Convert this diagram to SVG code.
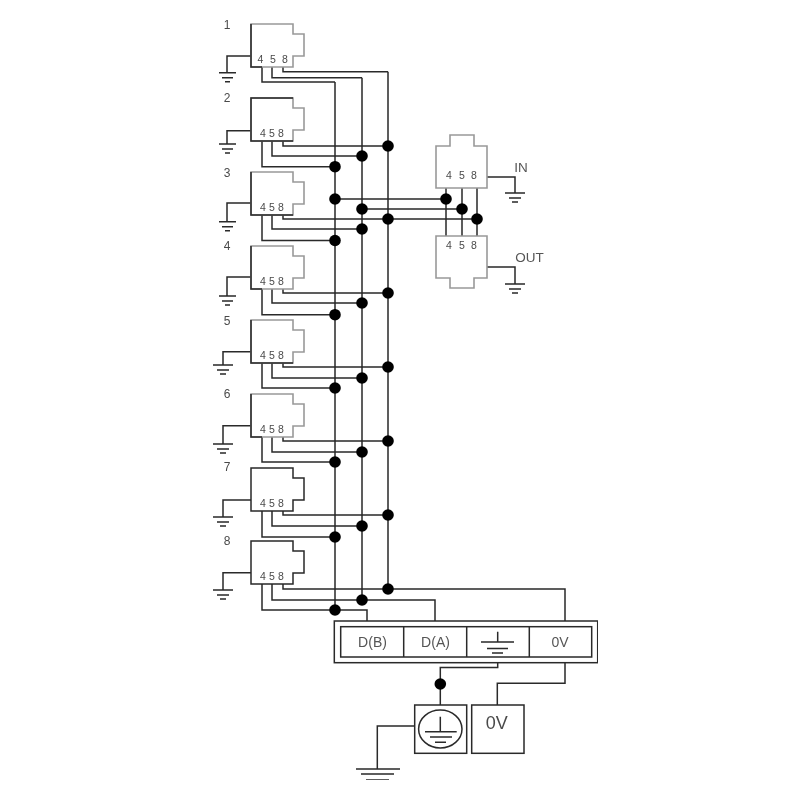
<svg xmlns="http://www.w3.org/2000/svg" width="800" height="800" viewBox="0 0 800 800">
<style>
text{font-family:"Liberation Sans",Arial,sans-serif;fill:#4a4a4a;text-anchor:middle}
.w{fill:none;stroke:#2a2a2a;stroke-width:1.5}
.g{fill:none;stroke:#999;stroke-width:1.6}
.d{fill:#000;stroke:none}
.n{font-size:12px}
.p{font-size:10.500px}
.t{font-size:14px;fill:#555}
.l{font-size:13.500px;fill:#555}
</style>
<defs>
<filter id="soft" x="0" y="0" width="1" height="1"><feGaussianBlur stdDeviation="0.35"/></filter>
<path id="j" class="g" d="M0 0H42V10H53V32H42V43H0Z"/>
<path id="jd" class="w" d="M0 0H42V10H53V32H42V43H0Z"/>
<path id="gs" class="w" d="M-8 0H9M-5 5H6M-2 9H3"/>
<path id="gw" class="w" d="M-10 0H10M-6 5H6M-3 9H3"/>
</defs>
<rect width="800" height="800" fill="#fff"/>
<g filter="url(#soft)">
<g id="connectors" class="w">
<path d="M335 82V610M362 77.700V600M388 71.700V589"/>
<path d="M262 67V82H335M272 67V77.700H362M283 67V71.700H388"/>
<path d="M262 141V166.700H335M272 141V156H362M283 141V146H388"/>
<path d="M262 215V240.500H335M272 215V229H362M283 215V219H477"/>
<path d="M262 289V314.700H335M272 289V303H362M283 289V293H388"/>
<path d="M262 363V388H335M272 363V378H362M283 363V367H388"/>
<path d="M262 437V462H335M272 437V452H362M283 437V441H388"/>
<path d="M262 511V537H335M272 511V526H362M283 511V515H388"/>
<path d="M262 584V610H367V621M272 584V600H435V621M283 584V589H565V621"/>
<path d="M335 199H446M362 209H462"/>
<path d="M446 188V236M462 188V236M477 188V236"/>
<path d="M487 177H515V193M487 267H515V284"/>
<path d="M251 56H227V72.700M251 130.700H227V144M251 203H227V221.700M251 277H227V296M251 351.700H223V365M251 425.700H223V444M251 500H223V517M251 572.700H223V590"/>
<path d="M497.700 662.700V667.500H440.300V705M565 662.700V683.300H497.300V705M414.700 726H377.300V769"/>
</g>
<g id="junctions" class="d">
<circle cx="388" cy="146" r="5.800"/><circle cx="362" cy="156" r="5.800"/><circle cx="335" cy="166.700" r="5.800"/>
<circle cx="335" cy="199" r="5.800"/><circle cx="362" cy="209" r="5.800"/><circle cx="388" cy="219" r="5.800"/>
<circle cx="446" cy="199" r="5.800"/><circle cx="462" cy="209" r="5.800"/><circle cx="477" cy="219" r="5.800"/>
<circle cx="362" cy="229" r="5.800"/><circle cx="335" cy="240.500" r="5.800"/>
<circle cx="388" cy="293" r="5.800"/><circle cx="362" cy="303" r="5.800"/><circle cx="335" cy="314.700" r="5.800"/>
<circle cx="388" cy="367" r="5.800"/><circle cx="362" cy="378" r="5.800"/><circle cx="335" cy="388" r="5.800"/>
<circle cx="388" cy="441" r="5.800"/><circle cx="362" cy="452" r="5.800"/><circle cx="335" cy="462" r="5.800"/>
<circle cx="388" cy="515" r="5.800"/><circle cx="362" cy="526" r="5.800"/><circle cx="335" cy="537" r="5.800"/>
<circle cx="388" cy="589" r="5.800"/><circle cx="362" cy="600" r="5.800"/><circle cx="335" cy="610" r="5.800"/>
<circle cx="440.300" cy="684" r="5.800"/>
</g>
<g id="node1"><use href="#j" x="251" y="24"/><path class="w" d="M251 24V67H262"/><text class="n" x="227" y="29">1</text><text class="p" x="260.500" y="63">4</text><text class="p" x="273" y="63">5</text><text class="p" x="285" y="63">8</text><use href="#gs" x="227" y="72.700"/></g>
<g id="node2"><use href="#j" x="251" y="98"/><path class="w" d="M293 98H251V141H293"/><text class="n" x="227" y="102">2</text><text class="p" x="263" y="137">4</text><text class="p" x="272" y="137">5</text><text class="p" x="281" y="137">8</text><use href="#gs" x="227" y="144"/></g>
<g id="node3"><use href="#j" x="251" y="172"/><path class="w" d="M251 172V215H293"/><text class="n" x="227" y="177">3</text><text class="p" x="263" y="211">4</text><text class="p" x="272" y="211">5</text><text class="p" x="281" y="211">8</text><use href="#gs" x="227" y="221.700"/></g>
<g id="node4"><use href="#j" x="251" y="246"/><path class="w" d="M251 246V289H262"/><text class="n" x="227" y="250">4</text><text class="p" x="263" y="285">4</text><text class="p" x="272" y="285">5</text><text class="p" x="281" y="285">8</text><use href="#gs" x="227" y="296"/></g>
<g id="node5"><use href="#j" x="251" y="320"/><path class="w" d="M251 320V363H293"/><text class="n" x="227" y="325">5</text><text class="p" x="263" y="359">4</text><text class="p" x="272" y="359">5</text><text class="p" x="281" y="359">8</text><use href="#gw" x="223" y="365"/></g>
<g id="node6"><use href="#j" x="251" y="394"/><path class="w" d="M251 394V437H262"/><text class="n" x="227" y="398">6</text><text class="p" x="263" y="433">4</text><text class="p" x="272" y="433">5</text><text class="p" x="281" y="433">8</text><use href="#gw" x="223" y="444"/></g>
<g id="node7"><use href="#jd" x="251" y="468"/><text class="n" x="227" y="471">7</text><text class="p" x="263" y="507">4</text><text class="p" x="272" y="507">5</text><text class="p" x="281" y="507">8</text><use href="#gw" x="223" y="517"/></g>
<g id="node8"><use href="#jd" x="251" y="541"/><text class="n" x="227" y="545">8</text><text class="p" x="263" y="580">4</text><text class="p" x="272" y="580">5</text><text class="p" x="281" y="580">8</text><use href="#gw" x="223" y="590"/></g>
<g id="in"><path class="g" d="M436 146H450V135H474V146H487V188H436Z"/><text class="p" x="449" y="179">4</text><text class="p" x="462" y="179">5</text><text class="p" x="474" y="179">8</text><text class="l" x="521" y="172">IN</text><use href="#gw" x="515" y="193"/></g>
<g id="out"><path class="g" d="M436 236H487V278H474V288H450V278H436Z"/><text class="p" x="449" y="249">4</text><text class="p" x="462" y="249">5</text><text class="p" x="474" y="249">8</text><text class="l" x="529.500" y="262">OUT</text><use href="#gw" x="515" y="284"/></g>
<g id="terminal"><rect class="w" x="334.300" y="621" width="263.400" height="41.700"/><rect class="w" x="340.700" y="626.700" width="251" height="30.300"/><path class="w" d="M403.700 626.700V657M466.700 626.700V657M529.300 626.700V657"/>
<text class="t" x="372.500" y="647">D(B)</text><text class="t" x="435.500" y="647">D(A)</text><text class="t" x="560" y="647">0V</text>
<path class="w" d="M497.700 631.700V642M481 642H514M487 648.500H508M492 653H503"/></g>
<g id="earth"><rect class="w" x="414.700" y="705" width="52" height="48.300"/><ellipse class="w" cx="440.300" cy="729" rx="21.700" ry="19"/><path class="w" d="M440.300 716.700V731.700M425 731.700H456.700M430 737H452M435 742.300H446"/></g>
<g id="zerov"><rect class="w" x="471.700" y="705" width="52.300" height="48.300"/><text x="496.700" y="729" font-size="18">0V</text></g>
<g id="ground"><path class="w" d="M356 769H400M361 774H394M366 780H389"/></g>
</g>
</svg>
